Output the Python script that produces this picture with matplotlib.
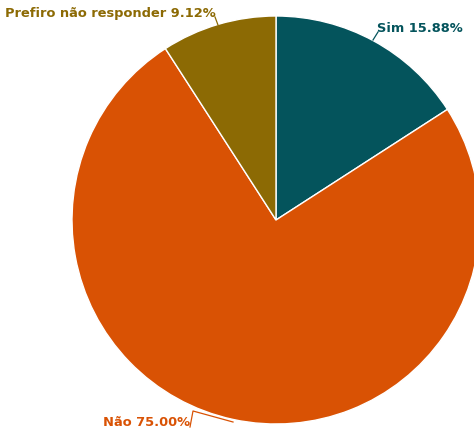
import matplotlib.pyplot as plt

labels = ["Sim", "Não", "Prefiro não responder"]
values = [15.88, 75.00, 9.12]
colors = ["#04545c", "#d95204", "#8c6a04"]

W, H = 474, 434
fig = plt.figure(figsize=(W / 100, H / 100), dpi=100)

# pie centre at (276, 220) px, radius 204 px
cx, cy, r = 276, 220, 204
ax = fig.add_axes([(cx - r) / W, (H - cy - r) / H, 2 * r / W, 2 * r / H])
ax.axis("off")

ax.pie(values, colors=colors, startangle=90, counterclock=False, radius=1,
       wedgeprops=dict(edgecolor="white", linewidth=1), frame=False)
ax.set_xlim(-1, 1)
ax.set_ylim(-1, 1)
ax.set_aspect("equal")


def px(x, y):
    return ((x - cx) / r, (cy - y) / r)


font = ["DejaVu Sans"]

# label text, text anchor (px), leader line points (px)
annos = [
    (0, px(377, 29), "left", [(373, 40), (378, 32)]),
    (2, px(5, 13), "left", [(215, 17), (218, 25)]),
    (1, px(190, 423), "right", [(190, 427), (193, 411), (233, 422)]),
]
for i, pos, ha, pts in annos:
    ax.text(pos[0], pos[1], f"{labels[i]} {values[i]:.2f}%", ha=ha, va="center",
            color=colors[i], fontsize=9.4, fontweight="bold", family=font,
            clip_on=False)
    xs, ys = zip(*[px(*p) for p in pts])
    ax.plot(xs, ys, color=colors[i], lw=0.9, clip_on=False)

fig.savefig("out.png", dpi=100)
